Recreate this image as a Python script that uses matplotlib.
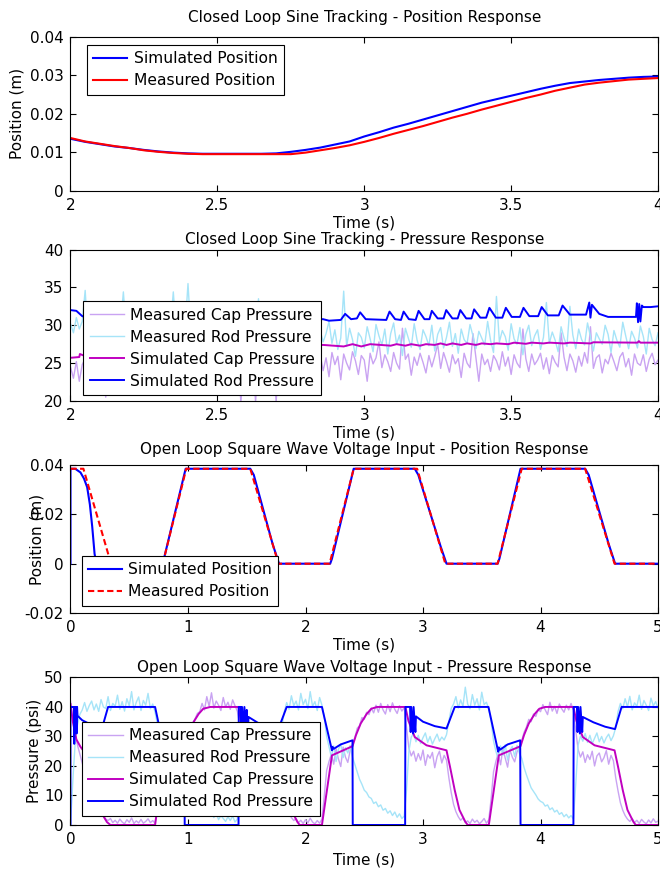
import numpy as np
import matplotlib
matplotlib.use("Agg")
import matplotlib.pyplot as plt

plt.rcParams["font.family"] = "DejaVu Sans"
plt.rcParams["font.size"] = 11
plt.rcParams["axes.unicode_minus"] = False

MEAS_CAP = "#c9a3f2"
MEAS_ROD = "#a6e4f8"
SIM_CAP = "#c000c0"
SIM_ROD = "#0000ff"

# closed loop sine tracking (2 - 4 s)
cl_pos_time = np.linspace(2, 4, 41)  # logged every 0.05 s
cl_pos_sim = [.0135, .0127, .0121, .0115, .0111, .0106, .0102, .0099, .0097, .0096,
              .0096, .0096, .0096, .0096, .0097, .0101, .0106, .0112, .0120, .0128,
              .0141, .0152, .0164, .0174, .0185, .0196, .0207, .0218, .0229, .0238,
              .0247, .0256, .0265, .0273, .0280, .0284, .0288, .0291, .0294, .0296, .0297]
cl_pos_meas = [.0137, .0128, .0122, .0116, .0111, .0105, .0101, .0098, .0096, .0095,
               .0095, .0095, .0095, .0095, .0095, .0095, .0099, .0105, .0111, .0118,
               .0127, .0137, .0148, .0158, .0168, .0179, .0190, .0200, .0211, .0221,
               .0231, .0241, .0250, .0260, .0268, .0276, .0281, .0285, .0289, .0291, .0293]

# measured pressures, 0.01 s samples
cl_rod_meas = [30.2, 29.0, 31.0, 29.5, 30.5, 34.6, 28.2, 29.8, 30.6, 29.2,
               30.0, 28.8, 29.6, 30.8, 29.0, 30.2, 28.6, 29.9, 34.4, 29.1,
               30.3, 28.9, 29.5, 30.6, 28.7, 29.8, 30.4, 28.5, 29.6, 30.1,
               28.8, 29.4, 30.5, 28.6, 29.7, 34.4, 29.0, 30.2, 28.7, 29.5,
               35.5, 28.9, 29.6, 30.3, 28.4, 29.7, 30.0, 28.6, 29.3, 30.2,
               28.5, 29.4, 30.1, 28.3, 29.5, 29.9, 28.4, 29.2, 30.0, 28.6,
               29.3, 29.8, 28.2, 29.1, 33.5, 28.4, 29.0, 29.7, 28.3, 29.2,
               29.6, 28.1, 28.9, 29.5, 28.2, 29.0, 29.4, 28.0, 28.8, 29.3,
               27.9, 28.7, 29.2, 28.0, 28.6, 29.3, 27.8, 28.9, 30.5, 27.6,
               29.4, 26.8, 28.3, 34.5, 27.2, 29.6, 28.1, 25.9, 29.0, 28.4,
               27.0, 29.8, 28.2, 26.5, 30.1, 28.6, 27.4, 29.5, 26.2, 28.9,
               30.3, 27.5, 28.7, 26.0, 29.6, 28.3, 27.1, 30.2, 28.0, 26.8,
               29.4, 28.5, 27.3, 30.0, 26.6, 28.8, 29.7, 27.0, 28.4, 30.4,
               27.2, 28.9, 26.3, 29.5, 28.1, 27.6, 30.1, 28.6, 26.9, 29.2,
               28.3, 27.4, 30.5, 28.0, 26.4, 33.8, 27.8, 29.3, 28.5, 26.7,
               30.2, 28.2, 27.5, 29.7, 26.1, 28.8, 30.0, 27.3, 28.6, 29.4,
               26.8, 28.4, 33.0, 27.6, 29.1, 28.0, 26.5, 29.8, 28.3, 27.2,
               32.5, 28.7, 26.9, 29.5, 28.1, 27.4, 30.3, 28.5, 26.6, 29.0,
               28.2, 27.5, 30.0, 28.8, 26.4, 29.3, 28.0, 27.1, 30.4, 28.6,
               26.9, 29.2, 28.3, 27.0, 29.9, 28.5, 26.2, 29.6, 28.1, 27.3, 29.0]
cl_cap_meas = [24.5, 23.0, 25.2, 22.6, 24.8, 25.6, 23.4, 25.0, 24.2, 25.8,
               23.8, 25.4, 20.5, 24.9, 25.7, 23.6, 25.3, 24.6, 26.0, 23.9,
               25.5, 24.7, 26.1, 23.7, 25.2, 24.8, 26.2, 23.5, 25.6, 24.9,
               26.0, 23.8, 25.4, 25.0, 26.3, 23.6, 25.7, 24.6, 26.1, 24.0,
               25.5, 25.1, 26.4, 23.9, 25.8, 24.7, 26.2, 24.2, 25.6, 25.3,
               26.3, 24.0, 25.9, 24.8, 26.5, 24.3, 25.7, 25.2, 19.9, 24.5,
               26.0, 25.0, 26.4, 19.9, 25.8, 24.6, 26.3, 24.9, 25.5, 26.1,
               19.9, 25.4, 26.2, 24.4, 25.9, 25.1, 26.5, 24.7, 25.6, 26.0,
               24.5, 25.8, 26.3, 24.2, 25.5, 26.1, 24.0, 25.7, 23.2, 26.4,
               24.8, 25.9, 22.8, 26.2, 25.0, 24.1, 26.5, 25.3, 23.5, 26.0,
               25.4, 22.6, 26.3, 24.9, 25.7, 27.8, 24.4, 26.1, 25.2, 23.9,
               26.4, 25.0, 24.2, 29.6, 25.5, 26.2, 23.4, 25.8, 24.7, 26.3,
               25.1, 23.7, 26.0, 24.5, 25.9, 27.5, 24.3, 26.4, 25.2, 23.8,
               26.1, 24.9, 25.6, 23.1, 26.3, 25.0, 24.4, 28.9, 25.7, 22.6,
               26.2, 24.8, 25.5, 23.9, 26.0, 25.3, 24.1, 26.5, 24.6, 25.8,
               23.5, 26.1, 25.0, 24.4, 29.5, 25.6, 23.9, 26.2, 24.8, 25.4,
               26.3, 24.2, 25.7, 23.6, 26.0, 25.1, 24.5, 29.0, 25.8, 24.0,
               26.2, 25.3, 23.8, 25.9, 24.6, 26.4, 25.0, 29.8, 24.3, 25.7,
               26.1, 23.7, 25.5, 24.9, 26.3, 25.2, 24.0, 25.8, 26.4, 24.5,
               25.6, 23.4, 26.2, 25.0, 24.7, 26.1, 23.9, 25.5, 26.3, 24.8, 25.4]
cl_meas_time = np.linspace(2, 4, len(cl_rod_meas))

cl_cap_sim_t = [2.0, 2.03, 2.032, 2.045, 2.2, 2.4, 2.6, 2.8, 2.86, 2.93, 2.96, 2.99, 3.02,
                3.09, 3.11, 3.14, 3.16, 3.19, 3.21, 3.24, 3.26, 3.28, 3.30, 3.33, 3.35,
                3.38, 3.40, 3.43, 3.45, 3.49, 3.51, 3.55, 3.57, 3.61, 3.63, 3.68, 3.70,
                3.77, 3.78, 3.93, 3.935, 3.94, 4.0]
cl_cap_sim = [25.7, 25.8, 26.2, 26.0, 26.4, 26.8, 27.1, 27.3, 27.4, 27.2, 27.5, 27.2, 27.5,
              27.3, 27.5, 27.3, 27.5, 27.3, 27.5, 27.4, 27.6, 27.4, 27.6, 27.4, 27.6,
              27.4, 27.6, 27.5, 27.6, 27.5, 27.7, 27.55, 27.7, 27.6, 27.7, 27.6, 27.7,
              27.6, 27.75, 27.7, 27.9, 27.7, 27.7]

cl_rod_sim_t = [2.0, 2.02, 2.04, 2.06, 2.10, 2.12, 2.20, 2.22, 2.30, 2.32, 2.40, 2.42,
                2.50, 2.52, 2.60, 2.62, 2.70, 2.72, 2.80, 2.82, 2.86, 2.88, 2.92, 2.935,
                2.955, 2.975, 2.986, 3.005, 3.075, 3.086, 3.105, 3.125, 3.134, 3.152,
                3.175, 3.185, 3.205, 3.222, 3.230, 3.250, 3.270, 3.279, 3.300, 3.318,
                3.327, 3.347, 3.365, 3.374, 3.395, 3.415, 3.426, 3.448, 3.470, 3.482,
                3.502, 3.530, 3.542, 3.562, 3.592, 3.604, 3.625, 3.662, 3.675, 3.700,
                3.755, 3.766, 3.770, 3.775, 3.800, 3.830, 3.925, 3.928, 3.932, 3.936,
                3.940, 3.945, 3.950, 3.975, 4.0]
cl_rod_sim = [32.0, 31.9, 31.2, 31.0, 31.3, 30.9, 31.2, 30.8, 31.1, 30.8, 31.1, 30.8,
              31.1, 30.8, 31.1, 30.8, 31.1, 30.8, 31.0, 30.8, 30.8, 30.6, 30.7, 31.5,
              30.8, 30.9, 31.7, 30.8, 30.7, 31.8, 30.8, 30.7, 31.8, 30.8,
              30.7, 31.9, 30.8, 30.8, 31.9, 30.9, 30.9, 32.0, 30.9, 30.9,
              32.0, 30.9, 30.9, 32.1, 31.0, 31.0, 32.3, 31.0, 31.0, 32.3,
              31.1, 31.1, 32.3, 31.2, 31.2, 32.4, 31.3, 31.3, 32.6, 31.4,
              31.4, 33.0, 31.0, 32.7, 31.5, 31.1, 31.1, 32.9, 30.4, 32.8,
              30.5, 32.6, 32.4, 32.4, 32.5]

# open loop square wave (0 - 5 s)
ol_pos_sim_t = [0, 0, 0.04, 0.085, 0.115, 0.142, 0.165, 0.185, 0.205, 0.22, 0.785, 0.98,
                1.53, 1.56, 1.72, 1.775, 2.21, 2.225, 2.41, 2.93, 2.96, 3.15, 3.2, 3.635,
                3.65, 3.83, 4.38, 4.41, 4.58, 4.635, 5.0]
ol_pos_sim = [0, .0385, .0385, .037, .0345, .031, .024, .015, .004, 0, 0, .0385,
              .0385, .036, .008, 0, 0, .002, .0385, .0385, .036, .007, 0, 0,
              .002, .0385, .0385, .036, .008, 0, 0]
ol_pos_meas_t = [0, 0.11, 0.345, 0.785, 0.985, 1.53, 1.77, 2.205, 2.41, 2.95, 3.19,
                 3.635, 3.84, 4.38, 4.63, 5.0]
ol_pos_meas = [.0385, .0385, 0, 0, .0385, .0385, 0, 0, .0385, .0385, 0,
               0, .0385, .0385, 0, 0]

# measured pressures, 0.02 s samples
ol_rod_meas = [0.0, 15.0, 28.0, 34.0, 37.5, 39.0, 41.5, 38.5, 40.5, 42.0,
               39.0, 41.0, 38.5, 42.5, 40.0, 39.5, 43.5, 38.8, 41.2, 40.2,
               44.0, 39.2, 41.8, 38.6, 42.8, 40.4, 45.2, 39.0, 41.6, 43.4,
               38.8, 42.2, 40.6, 44.6, 39.4, 41.0, 38.2, 34.0, 29.5, 26.5,
               25.0, 27.2, 23.6, 26.4, 24.2, 27.0, 23.8, 25.8, 26.6, 22.0,
               18.0, 14.5, 12.5, 10.0, 9.0, 7.5, 6.8, 6.0, 5.2, 4.8,
               4.2, 2.5, 4.0, 1.8, 3.2, 2.2, 1.2, 2.8, 1.5, 3.0,
               1.0, 2.0, 14.0, 26.0, 29.5, 28.2, 31.0, 27.8, 30.2, 28.6,
               31.2, 27.6, 29.8, 30.6, 28.0, 31.4, 28.8, 29.6, 30.8, 27.8,
               33.5, 38.5, 41.5, 39.2, 43.8, 40.4, 42.0, 39.0, 44.6, 40.8,
               42.6, 39.4, 45.2, 40.2, 41.8, 38.8, 43.2, 40.6, 36.5, 30.0,
               26.5, 23.0, 26.8, 21.5, 25.6, 27.4, 22.8, 26.2, 24.4, 27.0,
               23.0, 20.5, 18.0, 15.5, 13.8, 11.8, 11.0, 9.5, 9.0, 7.3,
               7.8, 6.2, 6.8, 5.0, 5.6, 4.0, 4.8, 3.2, 4.4, 2.6,
               3.8, 2.2, 3.0, 12.0, 25.0, 29.8, 31.0, 28.2, 30.4, 27.6,
               29.6, 31.2, 28.0, 30.0, 27.4, 29.2, 30.8, 28.4, 29.8, 28.8,
               30.6, 35.0, 39.5, 41.0, 43.5, 39.6, 42.4, 40.2, 46.7, 41.0,
               39.4, 44.2, 40.6, 42.8, 39.0, 45.0, 40.8, 41.6, 39.2, 35.0,
               28.5, 25.0, 22.4, 26.8, 23.6, 27.2, 22.0, 25.4, 26.6, 23.2,
               27.0, 24.4, 22.6, 19.5, 17.0, 14.8, 12.6, 11.4, 10.2, 8.8,
               8.0, 7.6, 6.4, 6.8, 5.2, 5.8, 4.4, 5.0, 3.6, 4.2,
               2.8, 3.6, 2.4, 3.2, 2.0, 14.0, 27.0, 30.2, 28.4, 31.0,
               28.0, 30.4, 27.6, 29.4, 31.2, 28.2, 30.0, 27.8, 29.6, 30.8,
               28.6, 30.2, 33.0, 38.5, 41.2, 39.4, 42.8, 40.0, 43.6, 39.0,
               41.4, 40.2, 44.0, 39.2, 42.2, 40.6, 38.8, 43.0, 40.4, 41.8, 39.6]
ol_cap_meas = [42.0, 36.0, 31.0, 27.0, 24.0, 21.0, 18.0, 15.5, 13.0, 11.0,
               9.0, 7.0, 5.5, 4.0, 3.0, 2.0, 1.5, 2.2, 0.8, 1.6,
               0.6, 2.0, 1.0, 0.4, 1.8, 0.9, 2.4, 0.5, 1.4, 0.7,
               1.9, 0.6, 1.2, 2.1, 0.8, 1.5, 0.5, 8.0, 17.0, 21.5,
               23.0, 20.8, 25.2, 22.4, 24.6, 21.6, 26.0, 23.2, 25.4, 27.0,
               29.5, 32.0, 34.5, 36.0, 37.8, 38.4, 41.2, 39.0, 43.5, 40.2,
               44.8, 39.6, 42.0, 40.6, 38.8, 43.2, 40.0, 41.6, 39.2, 42.4,
               40.4, 38.6, 34.0, 28.0, 25.2, 22.6, 24.8, 21.4, 23.6, 25.0,
               22.2, 24.4, 20.8, 23.8, 25.6, 21.8, 23.0, 24.8, 22.4, 20.0,
               14.0, 9.0, 6.0, 4.0, 2.5, 1.5, 2.2, 0.8, 1.6, 0.5,
               1.8, 0.7, 2.3, 1.0, 0.4, 1.5, 0.6, 2.0, 10.0, 18.5,
               21.5, 24.0, 20.6, 25.8, 22.4, 19.8, 26.4, 23.0, 21.2, 25.2,
               27.5, 29.6, 32.8, 33.6, 36.4, 35.8, 38.2, 37.4, 39.6, 38.0,
               40.6, 38.2, 41.2, 39.0, 37.6, 40.8, 38.4, 41.4, 39.2, 37.8,
               40.4, 38.6, 39.8, 33.0, 26.0, 23.4, 25.0, 21.6, 24.2, 22.0,
               25.4, 20.2, 23.8, 22.6, 24.6, 19.4, 23.2, 25.0, 21.0, 23.6,
               22.0, 16.0, 11.0, 7.0, 4.5, 2.8, 1.6, 2.4, 0.8, 1.4,
               0.5, 2.0, 0.9, 1.6, 0.4, 1.2, 2.2, 0.6, 1.8, 9.0,
               18.0, 21.5, 24.2, 20.4, 26.0, 22.6, 19.6, 25.4, 23.0, 21.4,
               24.8, 26.0, 28.6, 31.4, 33.2, 35.8, 35.0, 37.6, 36.8, 39.2,
               38.4, 40.8, 39.0, 37.4, 41.6, 38.6, 40.2, 37.8, 41.0, 39.4,
               38.2, 40.6, 39.0, 41.2, 38.8, 32.0, 25.6, 23.0, 24.8, 21.2,
               23.8, 22.2, 25.0, 20.0, 23.4, 24.4, 21.4, 22.8, 25.2, 20.6,
               23.6, 21.8, 16.0, 11.5, 7.5, 5.0, 3.2, 2.0, 1.2, 2.2,
               0.8, 1.6, 0.5, 1.9, 1.0, 0.4, 1.7, 0.7, 2.1, 0.9, 1.3]
ol_meas_time = np.linspace(0, 5, len(ol_rod_meas))

ol_cap_sim_t = [0.0, 0.02, 0.05, 0.085, 0.14, 0.2, 0.25, 0.28, 0.31, 0.34, 0.72, 0.80,
                0.97, 1.00, 1.04, 1.09, 1.13, 1.19, 1.43, 1.45, 1.50, 1.60, 1.77, 1.80,
                1.84, 1.88, 1.93, 1.95, 2.14, 2.225, 2.40, 2.43, 2.47, 2.52, 2.56, 2.61,
                2.85, 2.876, 2.93, 3.03, 3.20, 3.23, 3.27, 3.31, 3.36, 3.38, 3.56, 3.645,
                3.83, 3.86, 3.90, 3.95, 3.99, 4.04, 4.28, 4.305, 4.36, 4.46, 4.63, 4.66,
                4.70, 4.74, 4.79, 4.81, 5.0]
ol_cap_sim = [41.0, 35.0, 29.0, 26.5, 23.6, 15.0, 8.0, 3.0, 1.0, 0.0, 0.0, 23.6,
              26.7, 30.5, 34.4, 37.6, 39.4, 40.0, 40.0, 35.3, 29.8, 27.0, 25.3, 19.7,
              11.8, 5.1, 1.1, 0.0, 0.0, 23.6, 26.7, 30.5, 34.4, 37.6, 39.4, 40.0,
              40.0, 35.3, 29.8, 27.0, 25.3, 19.7, 11.8, 5.1, 1.1, 0.0, 0.0, 23.6,
              26.7, 30.5, 34.4, 37.6, 39.4, 40.0, 40.0, 35.3, 29.8, 27.0, 25.3, 19.7,
              11.8, 5.1, 1.1, 0.0, 0.0]

ol_rod_sim_t = [0, 0, 0.03, 0.032, 0.036, 0.05, 0.052, 0.056, 0.06, 0.1, 0.2, 0.27, 0.32,
                0.72, 0.80, 0.82, 0.85, 0.9, 0.97, 0.972, 1.43, 1.432, 1.45, 1.455, 1.46,
                1.475, 1.48, 1.495, 1.50, 1.51, 1.515, 1.60, 1.70, 1.77, 1.84, 2.14,
                2.225, 2.23, 2.24, 2.30, 2.40, 2.402, 2.848, 2.85, 2.89, 2.895, 2.90,
                2.915, 2.92, 2.935, 2.94, 3.0, 3.1, 3.2, 3.27, 3.557, 3.64, 3.645,
                3.655, 3.72, 3.827, 3.83, 4.28, 4.282, 4.31, 4.315, 4.32, 4.335, 4.34,
                4.355, 4.36, 4.45, 4.55, 4.634, 4.69, 5.0]
ol_rod_sim = [0, 40, 40, 27.5, 40, 40, 31, 40, 37, 35.5, 33.5, 33, 40,
              40, 25, 26, 26.5, 27.5, 28.7, 0, 0, 40, 40, 31.5, 40,
              31, 40, 32, 39, 31.5, 36.6, 34.5, 33, 32.6, 40, 40,
              25.3, 26.5, 25.8, 27.3, 28.7, 0, 0, 40, 40, 31.5, 40,
              31, 40, 31.5, 36.8, 35, 33.5, 32.7, 40, 40, 24.8, 26.3,
              25.5, 27.3, 28.7, 0, 0, 40, 40, 31.5, 40, 31, 40,
              31.5, 36.6, 34.8, 33.3, 32.5, 40, 40]


def style_axes(ax):
    ax.tick_params(direction="in", top=True, right=True, length=4, width=0.8,
                   pad=5, labelsize=11)
    for s in ax.spines.values():
        s.set_linewidth(0.8)


def boxed_legend(ax, loc, anchor):
    leg = ax.legend(loc=loc, bbox_to_anchor=anchor, borderaxespad=0, fancybox=False,
                    framealpha=1, edgecolor="black", fontsize=11.2, handlelength=2.2,
                    handletextpad=0.4, borderpad=0.4, labelspacing=0.45)
    leg.get_frame().set_linewidth(0.8)


fig = plt.figure(figsize=(6.6, 8.73), dpi=100)
left, width = 0.1068, 0.8902

# position, sine tracking
ax1 = fig.add_axes([left, 0.7816, width, 0.1761])
ax1.plot(cl_pos_time, cl_pos_sim, color=SIM_ROD, lw=1.5, label="Simulated Position")
ax1.plot(cl_pos_time, cl_pos_meas, color="#ff0000", lw=1.5, label="Measured Position")
ax1.set_xlim(2, 4)
ax1.set_ylim(0, 0.04)
ax1.set_xticks([2, 2.5, 3, 3.5, 4], ["2", "2.5", "3", "3.5", "4"])
ax1.set_yticks([0, 0.01, 0.02, 0.03, 0.04], ["0", "0.01", "0.02", "0.03", "0.04"])
ax1.set_title("Closed Loop Sine Tracking - Position Response", fontsize=11, pad=11)
ax1.set_xlabel("Time (s)", fontsize=11, labelpad=2)
ax1.set_ylabel("Position (m)", fontsize=11)
ax1.yaxis.set_label_coords(-0.078, 0.5)
style_axes(ax1)
boxed_legend(ax1, "upper left", (0.028, 0.946))

# pressure, sine tracking
ax2 = fig.add_axes([left, 0.5407, width, 0.1735])
ax2.plot(cl_meas_time, cl_cap_meas, color=MEAS_CAP, lw=1.0, label="Measured Cap Pressure")
ax2.plot(cl_meas_time, cl_rod_meas, color=MEAS_ROD, lw=1.0, label="Measured Rod Pressure")
ax2.plot(cl_cap_sim_t, cl_cap_sim, color=SIM_CAP, lw=1.4, label="Simulated Cap Pressure")
ax2.plot(cl_rod_sim_t, cl_rod_sim, color=SIM_ROD, lw=1.4, label="Simulated Rod Pressure")
ax2.set_xlim(2, 4)
ax2.set_ylim(20, 40)
ax2.set_xticks([2, 2.5, 3, 3.5, 4], ["2", "2.5", "3", "3.5", "4"])
ax2.set_yticks([20, 25, 30, 35, 40])
ax2.set_title("Closed Loop Sine Tracking - Pressure Response", fontsize=11, pad=4)
ax2.set_xlabel("Time (s)", fontsize=11, labelpad=2)
style_axes(ax2)
boxed_legend(ax2, "lower left", (0.022, 0.04))

# position, square wave
ax3 = fig.add_axes([left, 0.2978, width, 0.1695])
ax3.plot(ol_pos_sim_t, ol_pos_sim, color=SIM_ROD, lw=1.5, label="Simulated Position")
ax3.plot(ol_pos_meas_t, ol_pos_meas, color="#ff0000", lw=1.5, ls=(0, (3, 1.6)),
         label="Measured Position")
ax3.set_xlim(0, 5)
ax3.set_ylim(-0.02, 0.04)
ax3.set_xticks([0, 1, 2, 3, 4, 5])
ax3.set_yticks([-0.02, 0, 0.02, 0.04], ["-0.02", "0", "0.02", "0.04"])
ax3.set_title("Open Loop Square Wave Voltage Input - Position Response", fontsize=11, pad=8)
ax3.set_xlabel("Time (s)", fontsize=11, labelpad=2)
ax3.set_ylabel("Position (m)", fontsize=11)
ax3.yaxis.set_label_coords(-0.044, 0.5)
style_axes(ax3)
boxed_legend(ax3, "lower left", (0.019, 0.05))

# pressure, square wave
ax4 = fig.add_axes([left, 0.0550, width, 0.1690])
ax4.plot(ol_meas_time, ol_cap_meas, color=MEAS_CAP, lw=1.0, label="Measured Cap Pressure")
ax4.plot(ol_meas_time, ol_rod_meas, color=MEAS_ROD, lw=1.0, label="Measured Rod Pressure")
ax4.plot(ol_cap_sim_t, ol_cap_sim, color=SIM_CAP, lw=1.4, label="Simulated Cap Pressure")
ax4.plot(ol_rod_sim_t, ol_rod_sim, color=SIM_ROD, lw=1.4, label="Simulated Rod Pressure")
ax4.set_xlim(0, 5)
ax4.set_ylim(0, 50)
ax4.set_xticks([0, 1, 2, 3, 4, 5])
ax4.set_yticks([0, 10, 20, 30, 40, 50])
ax4.set_title("Open Loop Square Wave Voltage Input - Pressure Response", fontsize=11, pad=4)
ax4.set_xlabel("Time (s)", fontsize=11, labelpad=4)
ax4.set_ylabel("Pressure (psi)", fontsize=11)
ax4.yaxis.set_label_coords(-0.048, 0.5)
style_axes(ax4)
boxed_legend(ax4, "lower left", (0.02, 0.063))

fig.savefig("out.png", dpi=100)
